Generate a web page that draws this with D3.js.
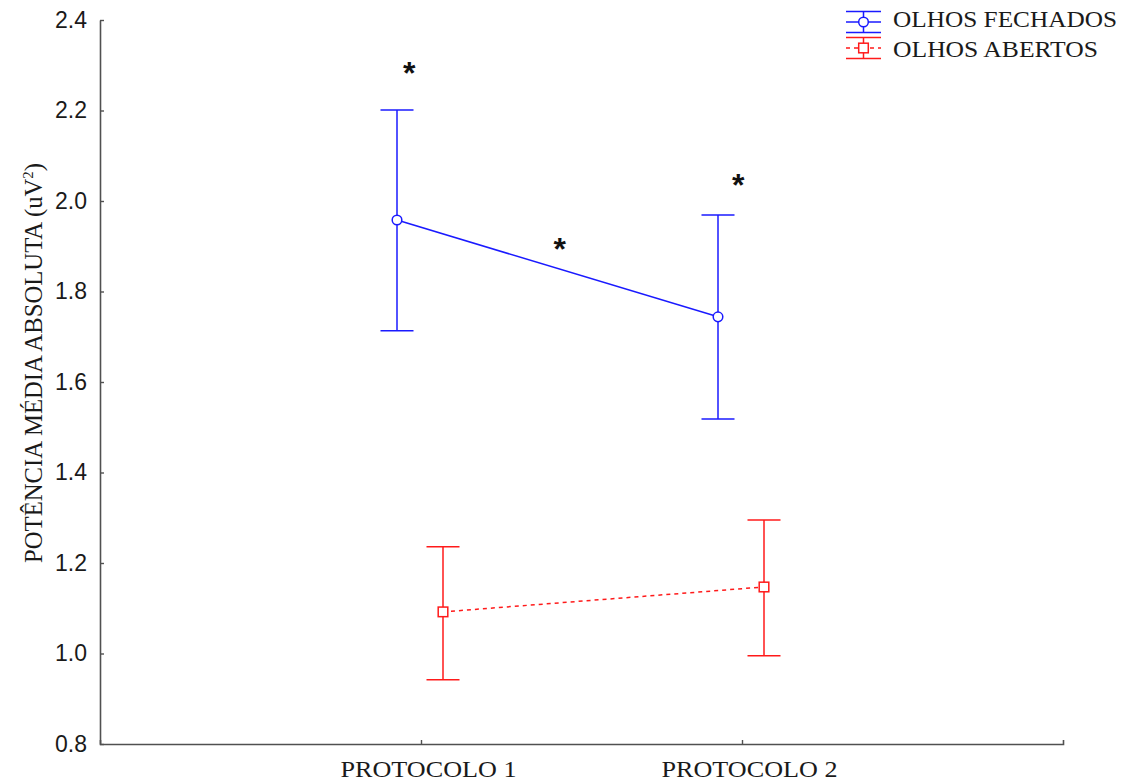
<!DOCTYPE html>
<html>
<head>
<meta charset="utf-8">
<script src="https://cdn.jsdelivr.net/npm/d3@7"></script>
<style>
  body { margin: 0; background: #fff; }
  svg { display: block; }
</style>
</head>
<body>
<div id="chart-area"></div>
<script>
// dados
var protocolos = ["PROTOCOLO 1", "PROTOCOLO 2"];

var fechadosMedia = [1.958, 1.744];
var fechadosSup = [2.201, 1.969];
var fechadosInf = [1.713, 1.518];

var abertosMedia = [1.092, 1.147];
var abertosSup = [1.236, 1.295];
var abertosInf = [0.942, 0.995];

var yTicks = [0.8, 1.0, 1.2, 1.4, 1.6, 1.8, 2.0, 2.2, 2.4];

// asteriscos: posicao em unidades de categoria (0 = protocolo 1, 1 = protocolo 2)
var astPos = [-0.037, 0.432, -0.012 + 1];
var astValor = [2.298, 1.909, 2.051];

var legendaNomes = ["OLHOS FECHADOS", "OLHOS ABERTOS"];

var W = 1127, H = 782;
var margin = {left: 100, right: 64, top: 20, bottom: 38};

var svg = d3.select("#chart-area")
  .append("svg")
    .attr("width", W)
    .attr("height", H);

var azul = "#1a1aff", vermelho = "#ff1a1a", eixo = "#505050";

//scales
var x = d3.scalePoint()
  .domain(protocolos)
  .range([margin.left, W - margin.right])
  .padding(1);

var xIdx = d3.scaleLinear()
  .domain([0, 1])
  .range([x(protocolos[0]), x(protocolos[1])]);

var y = d3.scaleLinear()
  .domain([0.8, 2.4])
  .range([H - margin.bottom, margin.top]);

//y axis
var yAxis = svg.append("g")
  .attr("transform", "translate(" + margin.left + ",0)")
  .call(d3.axisLeft(y)
    .tickValues(yTicks)
    .tickFormat(d3.format(".1f"))
    .tickSize(-4)
    .tickSizeOuter(0)
    .tickPadding(13));
yAxis.select(".domain").attr("stroke", eixo).attr("stroke-width", 1.6);
yAxis.selectAll(".tick line").attr("stroke", eixo).attr("stroke-width", 1.4);
yAxis.selectAll(".tick text")
  .attr("x", -13)
  .attr("fill", "#1a1a1a")
  .style("font-family", "'Liberation Sans', Arial, sans-serif")
  .style("font-size", "23px");

//x axis
var xAxis = svg.append("g")
  .attr("transform", "translate(0," + (H - margin.bottom) + ")")
  .call(d3.axisBottom(x)
    .tickSize(-4)
    .tickSizeOuter(-4));
xAxis.select(".domain").attr("stroke", eixo).attr("stroke-width", 1.6);
xAxis.selectAll(".tick line").attr("stroke", eixo).attr("stroke-width", 1.4);
xAxis.selectAll(".tick text")
  .attr("y", 33)
  .attr("dy", 0)
  .attr("x", 7)
  .attr("fill", "#1a1a1a")
  .attr("textLength", 176)
  .attr("lengthAdjust", "spacingAndGlyphs")
  .style("font-family", "'Liberation Serif', 'Times New Roman', serif")
  .style("font-size", "24px");

//y label
svg.append("text")
  .attr("transform", "translate(42,363) rotate(-90)")
  .attr("text-anchor", "middle")
  .attr("fill", "#1a1a1a")
  .attr("textLength", 400)
  .attr("lengthAdjust", "spacingAndGlyphs")
  .style("font-family", "'Liberation Serif', 'Times New Roman', serif")
  .style("font-size", "25px")
  .html("POTÊNCIA MÉDIA ABSOLUTA (uV<tspan dy='-9' font-size='15px'>2</tspan><tspan dy='9'>)</tspan>");

// series
function serie(media, sup, inf, cor, dx, tracejado, forma) {
  var g = svg.append("g");
  var pts = protocolos.map(function(p, i) {
    return {p: p, m: media[i], s: sup[i], n: inf[i]};
  });

  var line = d3.line()
    .x(function(d) { return x(d.p) + dx; })
    .y(function(d) { return y(d.m); });

  g.append("path")
    .datum(pts)
    .attr("d", line)
    .attr("fill", "none")
    .attr("stroke", cor)
    .attr("stroke-width", 1.5)
    .attr("stroke-dasharray", tracejado ? "4,4" : null);

  var eb = g.selectAll(".eb").data(pts).enter().append("g");
  eb.append("line")
    .attr("x1", function(d) { return x(d.p) + dx; })
    .attr("x2", function(d) { return x(d.p) + dx; })
    .attr("y1", function(d) { return y(d.s); })
    .attr("y2", function(d) { return y(d.n); })
    .attr("stroke", cor).attr("stroke-width", 1.5);
  [["s"], ["n"]].forEach(function(k) {
    eb.append("line")
      .attr("x1", function(d) { return x(d.p) + dx - 16.5; })
      .attr("x2", function(d) { return x(d.p) + dx + 16.5; })
      .attr("y1", function(d) { return y(d[k[0]]); })
      .attr("y2", function(d) { return y(d[k[0]]); })
      .attr("stroke", cor).attr("stroke-width", 1.5);
  });

  if (forma === "circulo") {
    eb.append("circle")
      .attr("cx", function(d) { return x(d.p) + dx; })
      .attr("cy", function(d) { return y(d.m); })
      .attr("r", 4.8)
      .attr("fill", "#fff")
      .attr("stroke", cor).attr("stroke-width", 1.5);
  } else {
    eb.append("rect")
      .attr("x", function(d) { return x(d.p) + dx - 4.8; })
      .attr("y", function(d) { return y(d.m) - 4.8; })
      .attr("width", 9.6).attr("height", 9.6)
      .attr("fill", "#fff")
      .attr("stroke", cor).attr("stroke-width", 1.5);
  }
}

serie(fechadosMedia, fechadosSup, fechadosInf, azul, -24, false, "circulo");
serie(abertosMedia, abertosSup, abertosInf, vermelho, 22, true, "quadrado");

// asteriscos
svg.selectAll(".ast")
  .data(astPos)
  .enter().append("text")
    .attr("class", "ast")
    .attr("x", function(d) { return xIdx(d); })
    .attr("y", function(d, i) { return y(astValor[i]); })
    .attr("dy", "0.56em")
    .attr("text-anchor", "middle")
    .attr("fill", "#111")
    .style("font-family", "'Liberation Sans', Arial, sans-serif")
    .style("font-weight", "bold")
    .style("font-size", "32px")
    .text("*");

// legenda
var legCores = [azul, vermelho];
var legY = [22, 48];
var legTexto = [27, 57];
var legLen = [224, 205];
legendaNomes.forEach(function(nome, i) {
  var lg = svg.append("g");
  var cy = legY[i], cor = legCores[i];
  lg.append("line").attr("x1", 846).attr("x2", 881).attr("y1", cy).attr("y2", cy)
    .attr("stroke", cor).attr("stroke-width", 1.5)
    .attr("stroke-dasharray", i === 1 ? "4,4" : null);
  lg.append("line").attr("x1", 846).attr("x2", 881).attr("y1", cy - 10.5).attr("y2", cy - 10.5)
    .attr("stroke", cor).attr("stroke-width", 1.5);
  lg.append("line").attr("x1", 846).attr("x2", 881).attr("y1", cy + 10.5).attr("y2", cy + 10.5)
    .attr("stroke", cor).attr("stroke-width", 1.5);
  lg.append("line").attr("x1", 863.5).attr("x2", 863.5).attr("y1", cy - 10.5).attr("y2", cy + 10.5)
    .attr("stroke", cor).attr("stroke-width", 1.5);
  if (i === 0) {
    lg.append("circle").attr("cx", 863.5).attr("cy", cy).attr("r", 4.8)
      .attr("fill", "#fff").attr("stroke", cor).attr("stroke-width", 1.5);
  } else {
    lg.append("rect").attr("x", 858.7).attr("y", cy - 4.8).attr("width", 9.6).attr("height", 9.6)
      .attr("fill", "#fff").attr("stroke", cor).attr("stroke-width", 1.5);
  }
  lg.append("text")
    .attr("x", 893)
    .attr("y", legTexto[i])
    .attr("fill", "#1a1a1a")
    .attr("textLength", legLen[i])
    .attr("lengthAdjust", "spacingAndGlyphs")
    .style("font-family", "'Liberation Serif', 'Times New Roman', serif")
    .style("font-size", "23px")
    .text(nome);
});
</script>
</body>
</html>
